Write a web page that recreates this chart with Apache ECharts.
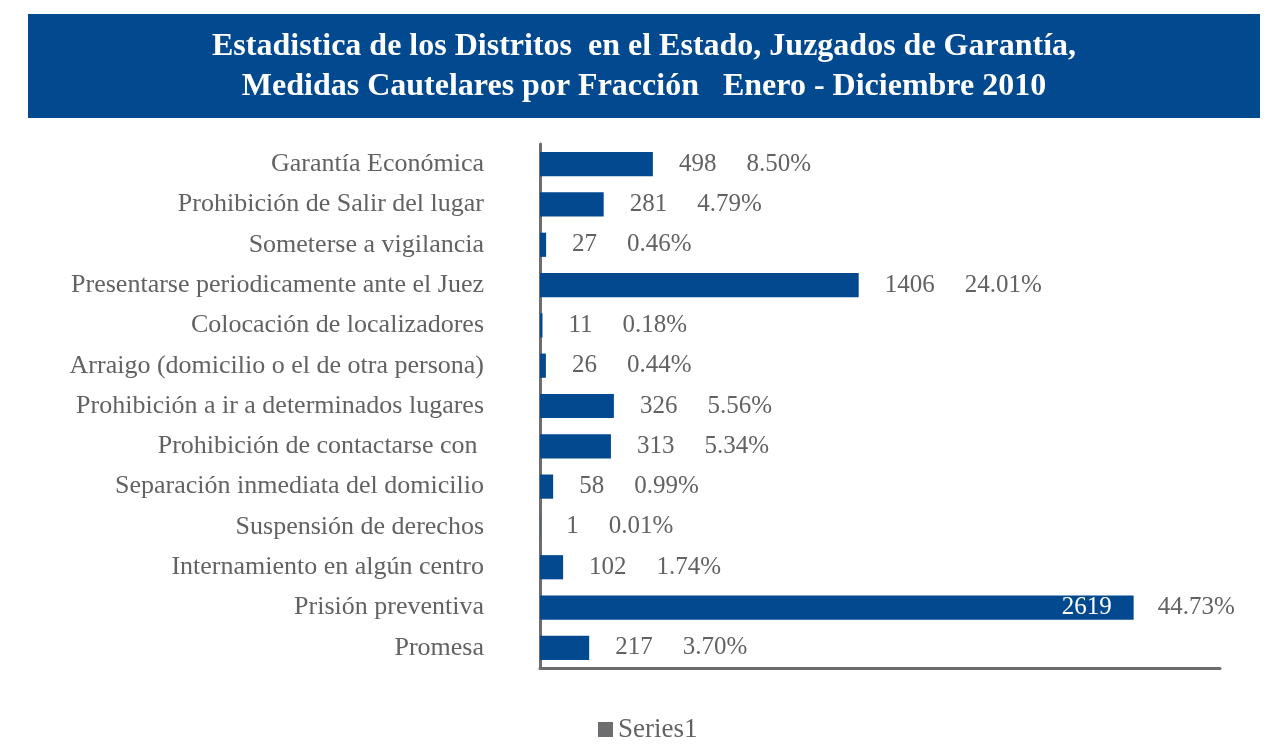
<!DOCTYPE html>
<html>
<head>
<meta charset="utf-8">
<script src="https://cdn.jsdelivr.net/npm/echarts@6/dist/echarts.min.js"></script>
<style>
  html, body { margin: 0; padding: 0; background: #fff; }
  #chart { width: 1271px; height: 744px; }
</style>
</head>
<body>
<div id="chart"></div>
<script>
// datos
var categorias = [
    'Garantía Económica',
    'Prohibición de Salir del lugar',
    'Someterse a vigilancia',
    'Presentarse periodicamente ante el Juez',
    'Colocación de localizadores',
    'Arraigo (domicilio o el de otra persona)',
    'Prohibición a ir a determinados lugares',
    'Prohibición de contactarse con ',
    'Separación inmediata del domicilio',
    'Suspensión de derechos',
    'Internamiento en algún centro',
    'Prisión preventiva',
    'Promesa'
];
var valores = [498, 281, 27, 1406, 11, 26, 326, 313, 58, 1, 102, 2619, 217];
var porcentajes = ['8.50%', '4.79%', '0.46%', '24.01%', '0.18%', '0.44%', '5.56%', '5.34%', '0.99%', '0.01%', '1.74%', '44.73%', '3.70%'];
var titulo1 = 'Estadistica de los Distritos  en el Estado, Juzgados de Garantía,';
var titulo2 = 'Medidas Cautelares por Fracción   Enero - Diciembre 2010';

var azul = '#02498F';
var gris = '#6D6D70';
var grisTexto = '#626262';
var fuente = '"Liberation Serif", "DejaVu Serif", serif';

var chart = echarts.init(document.getElementById('chart'));

// barras con etiquetas; la barra mas grande lleva el valor adentro
var maximo = Math.max.apply(null, valores);
var barData = valores.map(function (v) {
    var item = {value: v};
    if (v === maximo) {
        item.label = {
            position: 'insideRight',
            distance: 22,
            formatter: '{w|' + v + '}'
        };
    }
    return item;
});
var pctData = valores.map(function (v, i) {
    var item = {value: v};
    if (v === maximo) {
        item.label = {distance: 24, formatter: '{p|' + porcentajes[i] + '}'};
    }
    return item;
});

chart.setOption({
    animation: false,
    textStyle: {fontFamily: fuente},
    graphic: [
        {
            type: 'rect',
            shape: {x: 28, y: 14, width: 1232, height: 104},
            style: {fill: azul}
        },
        {
            type: 'text',
            x: 644, y: 47,
            style: {
                text: titulo1, fill: '#fff', align: 'center', verticalAlign: 'middle',
                font: 'bold 32px "Liberation Serif", serif'
            }
        },
        {
            type: 'text',
            x: 644, y: 87,
            style: {
                text: titulo2, fill: '#fff', align: 'center', verticalAlign: 'middle',
                font: 'bold 32px "Liberation Serif", serif'
            }
        }
    ],
    legend: {
        top: 711,
        left: 593,
        icon: 'rect',
        itemWidth: 15,
        itemHeight: 15,
        itemGap: 8,
        data: [{name: 'Series1', itemStyle: {color: gris}}],
        textStyle: {fontFamily: fuente, fontSize: 27, color: grisTexto}
    },
    grid: {left: 540, top: 144, width: 680, height: 524, containLabel: false},
    xAxis: {
        type: 'value',
        min: 0,
        max: 3000,
        axisLine: {show: true, lineStyle: {color: gris, width: 3}},
        axisTick: {show: false},
        axisLabel: {show: false},
        splitLine: {show: false}
    },
    yAxis: {
        type: 'category',
        inverse: true,
        data: categorias,
        axisLine: {show: true, lineStyle: {color: gris, width: 3}},
        axisTick: {show: false},
        axisLabel: {margin: 56, fontSize: 26, color: grisTexto, fontFamily: fuente}
    },
    series: [
        {
            name: 'Series1',
            type: 'bar',
            data: barData,
            barCategoryGap: '40%',
            itemStyle: {color: azul},
            label: {
                show: true,
                position: 'right',
                distance: 26,
                formatter: function (p) { return '{v|' + p.value + '}'; },
                rich: {
                    v: {fontFamily: fuente, fontSize: 25, color: grisTexto},
                    w: {fontFamily: fuente, fontSize: 25, color: '#fff'}
                }
            }
        },
        {
            name: 'pct',
            type: 'bar',
            data: pctData,
            barGap: '-100%',
            barCategoryGap: '40%',
            itemStyle: {color: 'transparent'},
            silent: true,
            label: {
                show: true,
                position: 'right',
                distance: 26,
                formatter: function (p) {
                    return '{h|' + p.value + '}{p|' + porcentajes[p.dataIndex] + '}';
                },
                rich: {
                    h: {fontFamily: fuente, fontSize: 25, color: 'transparent', padding: [0, 30, 0, 0]},
                    p: {fontFamily: fuente, fontSize: 25, color: grisTexto}
                }
            }
        }
    ]
});
</script>
</body>
</html>
